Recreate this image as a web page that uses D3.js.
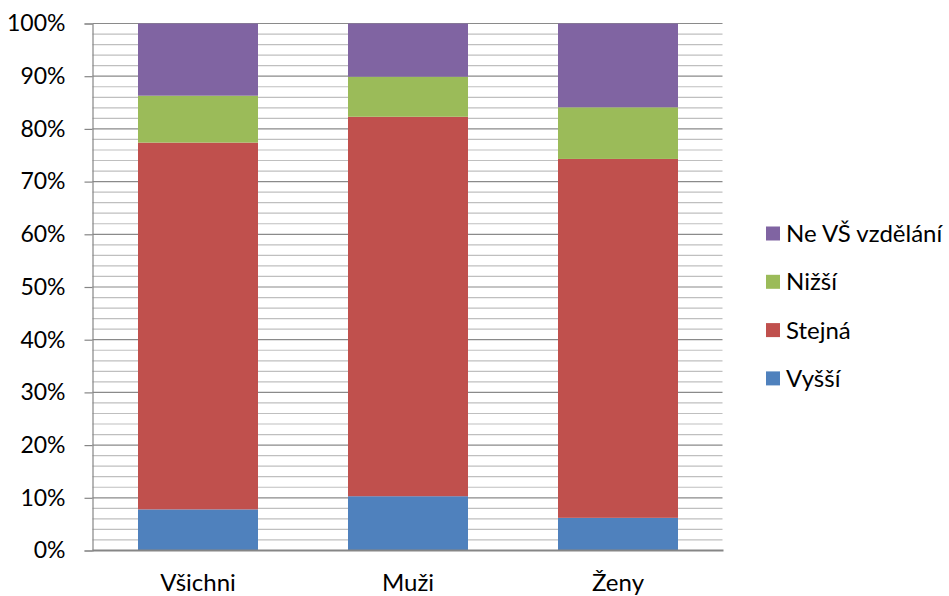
<!DOCTYPE html>
<html>
<head>
<meta charset="utf-8">
<script src="https://cdn.jsdelivr.net/npm/d3@7"></script>
<style>
  html, body { margin: 0; padding: 0; background: #fff; }
  svg { display: block; font-family: Lato, "Open Sans", sans-serif; }
</style>
</head>
<body>
<svg id="chart" width="949" height="596"></svg>
<script>
// Categories along the x axis
const categories = ["Všichni", "Muži", "Ženy"];
// Stacked series, bottom to top (percent shares)
const seriesNames = ["Vyšší", "Stejná", "Nižší", "Ne VŠ vzdělání"];
const vyssi  = [7.8, 10.3, 6.2];
const stejna = [69.6, 72.0, 68.1];
const nizsi  = [8.9, 7.6, 9.8];
const neVS   = [13.7, 10.1, 15.9];
const seriesColors = ["#4F81BD", "#C0504D", "#9BBB59", "#8064A2"];
// Y axis tick labels
const majorTicks = [0, 10, 20, 30, 40, 50, 60, 70, 80, 90, 100];
const tickLabels = ["0%", "10%", "20%", "30%", "40%", "50%", "60%", "70%", "80%", "90%", "100%"];
const minorTicks = d3.range(0, 101, 2).filter(v => v % 10 !== 0);

const rows = categories.map((c, i) => ({
  cat: c,
  "Vyšší": vyssi[i],
  "Stejná": stejna[i],
  "Nižší": nizsi[i],
  "Ne VŠ vzdělání": neVS[i]
}));
const stacked = d3.stack().keys(seriesNames)(rows);

const svg = d3.select("#chart");
const plotLeft = 92.5, plotRight = 722.5, plotTop = 23.5, plotBottom = 550.5;

const x = d3.scaleBand()
  .domain(categories)
  .range([plotLeft + 0.5, plotRight + 0.5])
  .paddingInner(90 / 210)
  .paddingOuter(45 / 210);
const y = d3.scaleLinear().domain([0, 100]).range([plotBottom, plotTop]);

// Minor gridlines
svg.append("g")
  .selectAll("line")
  .data(minorTicks)
  .join("line")
  .attr("x1", plotLeft).attr("x2", plotRight)
  .attr("y1", d => y(d)).attr("y2", d => y(d))
  .attr("stroke", "#BFBFBF").attr("stroke-width", 1.2);

// Major gridlines
svg.append("g")
  .selectAll("line")
  .data(majorTicks.filter(d => d > 0))
  .join("line")
  .attr("x1", plotLeft).attr("x2", plotRight)
  .attr("y1", d => y(d)).attr("y2", d => y(d))
  .attr("stroke", "#8A8A8A").attr("stroke-width", 1.2);

// Stacked bars
svg.append("g")
  .selectAll("g")
  .data(stacked)
  .join("g")
  .attr("fill", (d, i) => seriesColors[i])
  .selectAll("rect")
  .data(d => d)
  .join("rect")
  .attr("x", d => x(d.data.cat))
  .attr("width", x.bandwidth())
  .attr("y", d => y(d[1]))
  .attr("height", d => y(d[0]) - y(d[1]));

// Y axis with percent labels
const yAxis = d3.axisLeft(y)
  .tickValues(majorTicks)
  .tickFormat((d, i) => tickLabels[i])
  .tickSize(8)
  .tickPadding(19);
const gy = svg.append("g")
  .attr("transform", `translate(${plotLeft},0)`)
  .call(yAxis);
gy.select(".domain").attr("stroke", "#868686").attr("stroke-width", 1.2);
gy.selectAll(".tick line").attr("stroke", "#868686").attr("stroke-width", 1.2);
gy.selectAll(".tick text")
  .attr("fill", "#000")
  .style("font-size", "23px")
  .style("font-family", "Lato, 'Open Sans', sans-serif");

// X axis with category labels
const xAxis = d3.axisBottom(x).tickSize(0).tickPadding(23);
const gx = svg.append("g")
  .attr("transform", `translate(0,${plotBottom})`)
  .call(xAxis);
gx.select(".domain").attr("stroke", "#868686").attr("stroke-width", 2)
  .attr("d", `M${plotLeft},0H${plotRight + 1}`);
gx.selectAll(".tick text")
  .attr("fill", "#000")
  .style("font-size", "24px")
  .style("font-family", "Lato, 'Open Sans', sans-serif");

// Legend, top entry is the top of the stack
const legendItems = seriesNames.slice().reverse();
const legendColors = seriesColors.slice().reverse();
const legend = svg.append("g")
  .selectAll("g")
  .data(legendItems)
  .join("g")
  .attr("transform", (d, i) => `translate(766,${233.5 + i * 48.3})`);
legend.append("rect")
  .attr("x", 0).attr("y", -7)
  .attr("width", 14).attr("height", 14)
  .attr("fill", (d, i) => legendColors[i]);
legend.append("text")
  .attr("x", 20).attr("y", 0)
  .attr("dy", "0.35em")
  .style("font-size", "24px")
  .attr("fill", "#000")
  .text(d => d);
</script>
</body>
</html>
